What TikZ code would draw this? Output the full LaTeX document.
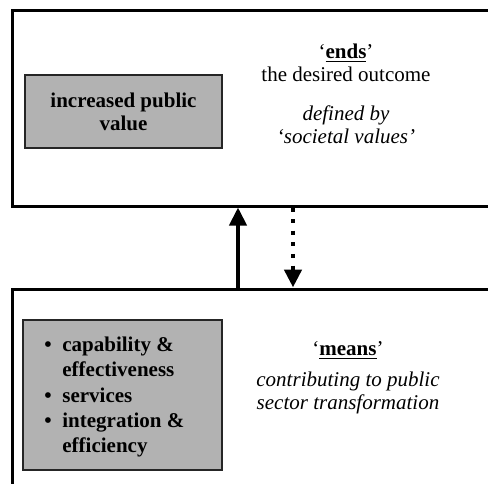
\documentclass[tikz,border=0pt]{standalone}
\usepackage{fontspec}
\setmainfont{Liberation Serif}
\usetikzlibrary{positioning, arrows.meta}

\begin{document}
\begin{tikzpicture}[
    x=0.5pt, y=-0.5pt,
    frame/.style={draw=black, line width=1.5pt, inner sep=0pt},
    greybox/.style={draw=black!85, fill=black!30, line width=0.8pt, inner sep=0pt,
        font=\bfseries, align=center},
    note/.style={align=center, inner sep=0pt},
    >={Triangle[width=8.5pt, length=9pt]}
]
    \useasboundingbox (0,0) rectangle (488,483);
    \clip (0,0) rectangle (488,483);
    \fontsize{10.5}{11.5}\selectfont

    % Ends frame (top)
    \node[frame, minimum width=254pt, minimum height=98pt] (endsbox) at (266,108) {};
    \node[greybox, minimum width=98.5pt, minimum height=36.5pt] (valuebox) at (123.5,111.5)
        {\baselineskip=13.5pt increased public\\value};
    \node[note] (endsnote) at (346,94)
        {`\underline{\textbf{ends}}'\\the desired outcome\\[8pt]
         \itshape defined by\\\itshape `societal values'};

    % Means frame (bottom)
    \node[frame, minimum width=254pt, minimum height=115.5pt] (meansbox) at (266,404.5) {};
    \node[greybox, minimum width=99.5pt, minimum height=75pt] (featbox) at (122.5,395) {};
    \node[anchor=west, inner sep=0pt, font=\bfseries] (featlist) at (44,397) {%
        \renewcommand{\arraystretch}{1.09}%
        \begin{tabular}{@{}l@{}l@{}}
            \makebox[9pt][l]{\textbullet} & capability \& \\
                                         & effectiveness \\
            \makebox[9pt][l]{\textbullet} & services \\
            \makebox[9pt][l]{\textbullet} & integration \& \\
                                         & efficiency
        \end{tabular}};
    \node[note] (meansnote) at (348,378)
        {`\underline{\textbf{means}}'\\[4pt]
         \itshape contributing to public\\\itshape sector transformation};

    % Arrows between the frames
    \coordinate (uparrow) at (238,0);
    \coordinate (downarrow) at (293,0);
    \draw[->, line width=2pt] (uparrow |- meansbox.north) -- (uparrow |- endsbox.south);
    \draw[->, line width=2.4pt, dash pattern=on 2pt off 3.8pt]
        (downarrow |- endsbox.south) -- (downarrow |- meansbox.north);
\end{tikzpicture}
\end{document}
